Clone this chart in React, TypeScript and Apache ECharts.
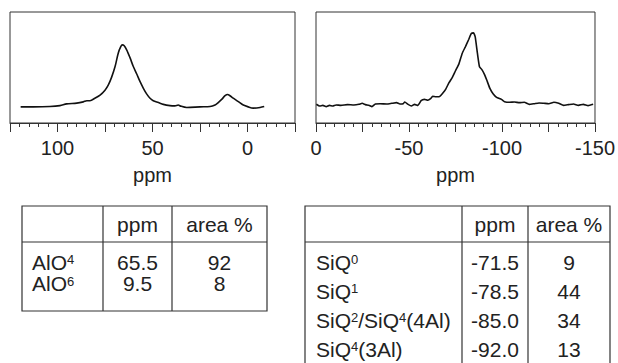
import React, { useEffect, useRef } from "react";
import * as echarts from "echarts";

// 27Al spectrum (ppm, normalised intensity)
const alPpm = [119.4, 112.7, 104, 98.7, 95.2, 89.9, 86.4, 84.6, 82.9, 80.3, 77.6, 75, 73.3, 71.5, 69.7, 68, 66.7, 65.9, 65, 63.6, 61.8, 60.1, 58.3, 56.6, 54.8, 53.1, 51.3, 49.6, 46.9, 44.3, 40.8, 38.2, 36.4, 35.5, 32, 25, 19.7, 17.1, 15.4, 13.6, 11.8, 10.5, 9.2, 7.5, 4.8, 2.2, -0.4, -3.0, -6.6, -8.8];
const alIntensity = [0, 0, 0.005, 0.02, 0.048, 0.06, 0.081, 0.1, 0.1, 0.14, 0.19, 0.27, 0.35, 0.48, 0.65, 0.87, 0.97, 1.0, 0.99, 0.92, 0.79, 0.65, 0.53, 0.41, 0.3, 0.21, 0.14, 0.1, 0.07, 0.04, 0.02, 0.016, 0.03, 0.016, -0.01, 0, 0.005, 0.03, 0.07, 0.12, 0.18, 0.2, 0.18, 0.14, 0.086, 0.03, 0, -0.02, -0.01, 0.005];

// 29Si spectrum (ppm, normalised intensity)
const siPpm = [-0.2, -1.95, -3.7, -5.5, -7.2, -9.0, -10.8, -13.4, -16.9, -20.4, -23.1, -24.8, -26.6, -28.4, -30.1, -31.9, -34.5, -38.0, -40.7, -43.3, -45.1, -46.9, -47.7, -49.5, -51.3, -53.0, -54.8, -56.5, -58.3, -60.1, -61.8, -62.7, -64.5, -66.2, -68.0, -69.7, -71.5, -73.3, -75.0, -76.8, -78.6, -80.3, -82.1, -83.5, -84.7, -85.6, -86.8, -87.9, -89.1, -90.5, -91.8, -93.5, -95.3, -97.1, -99.7, -101.4, -104.1, -106.7, -109.4, -112.0, -114.6, -117.3, -119.9, -122.6, -125.2, -127.9, -130.5, -133.1, -135.8, -138.4, -141.1, -143.7, -146.3, -149.0];
const siIntensity = [0.01, -0.014, -0.005, -0.023, -0.005, -0.014, 0, -0.005, 0.005, 0, 0.009, 0.023, 0.005, -0.005, -0.023, 0.014, 0.018, 0.014, 0.023, 0.032, 0.014, 0.018, 0.041, 0.009, -0.014, 0.009, -0.005, 0.06, 0.078, 0.065, 0.092, 0.12, 0.115, 0.115, 0.16, 0.217, 0.309, 0.383, 0.475, 0.567, 0.715, 0.807, 0.908, 0.991, 1.0, 0.945, 0.715, 0.53, 0.494, 0.429, 0.346, 0.23, 0.152, 0.106, 0.078, 0.046, 0.037, 0.041, 0.032, 0.037, 0.009, 0.018, 0.028, 0.023, 0.018, 0.037, 0.023, -0.005, 0.005, 0.014, -0.005, 0.009, -0.009, 0.009];

// Tables
const tableHeader = ["ppm", "area %"];
const alLabels = ["AlO{s|4}", "AlO{s|6}"];
const alShift = ["65.5", "9.5"];
const alArea = ["92", "8"];
const siLabels = ["SiQ{s|0}", "SiQ{s|1}", "SiQ{s|2}/SiQ{s|4}(4Al)", "SiQ{s|4}(3Al)"];
const siShift = ["-71.5", "-78.5", "-85.0", "-92.0"];
const siArea = ["9", "44", "34", "13"];

const FONT = '"Liberation Sans", Arial, Helvetica, sans-serif';
const INK = "#222";
const LINE = "#333";

function xAxisFor(gridIndex: number, min: number, max: number) {
  return {
    type: "value",
    gridIndex,
    min,
    max,
    interval: 25,
    inverse: true,
    name: "ppm",
    nameLocation: "middle",
    nameGap: 42,
    nameTextStyle: { fontFamily: FONT, fontSize: 20, color: INK },
    axisLine: { show: true, onZero: false, lineStyle: { color: LINE, width: 1 } },
    axisTick: { show: true, inside: false, length: 9, lineStyle: { color: LINE, width: 1 } },
    minorTick: { show: true, splitNumber: 5, length: 4, lineStyle: { color: LINE, width: 1 } },
    splitLine: { show: false },
    minorSplitLine: { show: false },
    axisLabel: {
      show: true,
      margin: 15,
      fontFamily: FONT,
      fontSize: 20,
      color: INK,
      showMinLabel: true,
      showMaxLabel: true,
      formatter: (v: number) => (Math.round(v) % 50 === 0 ? String(Math.round(v)) : ""),
    },
  };
}

function cellText(x: number, y: number, text: string, align: string) {
  return {
    type: "text",
    x,
    y,
    silent: true,
    style: {
      text,
      fill: INK,
      fontFamily: FONT,
      fontSize: 21,
      lineHeight: 18,
      align,
      verticalAlign: "middle",
      rich: {
        s: { fontSize: 13, lineHeight: 18, fontFamily: FONT, fill: INK, verticalAlign: "top" },
      },
    },
  };
}

function line(x1: number, y1: number, x2: number, y2: number) {
  return {
    type: "line",
    silent: true,
    shape: { x1, y1, x2, y2 },
    style: { stroke: LINE, lineWidth: 1.2 },
  };
}

function buildTables() {
  const els: any[] = [];
  // Left table
  els.push({
    type: "rect",
    silent: true,
    shape: { x: 22, y: 206, width: 245, height: 105 },
    style: { fill: "none", stroke: LINE, lineWidth: 1.2 },
  });
  els.push(line(22, 242, 267, 242));
  els.push(line(103, 206, 103, 311));
  els.push(line(172, 206, 172, 311));
  els.push(cellText(137.5, 224, tableHeader[0], "center"));
  els.push(cellText(219.5, 224, tableHeader[1], "center"));
  const alRowY = [262, 283.5];
  alLabels.forEach((lab, i) => {
    els.push(cellText(32, alRowY[i], lab, "left"));
    els.push(cellText(137.5, alRowY[i], alShift[i], "center"));
    els.push(cellText(219.5, alRowY[i], alArea[i], "center"));
  });

  // Right table
  els.push({
    type: "rect",
    silent: true,
    shape: { x: 305, y: 206, width: 305, height: 175 },
    style: { fill: "none", stroke: LINE, lineWidth: 1.2 },
  });
  els.push(line(305, 242, 610, 242));
  els.push(line(462, 206, 462, 381));
  els.push(line(528, 206, 528, 381));
  els.push(cellText(495, 224, tableHeader[0], "center"));
  els.push(cellText(569, 224, tableHeader[1], "center"));
  const siRowY = [262, 291, 320, 349];
  siLabels.forEach((lab, i) => {
    els.push(cellText(316, siRowY[i], lab, "left"));
    els.push(cellText(495, siRowY[i], siShift[i], "center"));
    els.push(cellText(569, siRowY[i], siArea[i], "center"));
  });
  return els;
}

export default function App() {
  const ref = useRef<HTMLDivElement>(null);

  useEffect(() => {
    document.body.style.margin = "0";
    if (!ref.current) return;
    const chart = echarts.init(ref.current, null, { renderer: "svg" });
    chart.setOption({
      animation: false,
      backgroundColor: "#fff",
      grid: [
        { left: 10, top: 12, width: 285, height: 111, show: true, borderColor: LINE, borderWidth: 1, backgroundColor: "transparent" },
        { left: 316, top: 12, width: 284, height: 111, show: true, borderColor: LINE, borderWidth: 1, backgroundColor: "transparent" },
      ],
      xAxis: [xAxisFor(0, -25, 125), xAxisFor(1, -150, 0)],
      yAxis: [
        { type: "value", gridIndex: 0, min: -0.26, max: 1.53, show: false, splitLine: { show: false } },
        { type: "value", gridIndex: 1, min: -0.25, max: 1.29, show: false, splitLine: { show: false } },
      ],
      series: [
        {
          type: "line",
          xAxisIndex: 0,
          yAxisIndex: 0,
          data: alPpm.map((p, i) => [p, alIntensity[i]]),
          showSymbol: false,
          smooth: 0.3,
          lineStyle: { color: "#111", width: 1.6 },
        },
        {
          type: "line",
          xAxisIndex: 1,
          yAxisIndex: 1,
          data: siPpm.map((p, i) => [p, siIntensity[i]]),
          showSymbol: false,
          smooth: 0.15,
          lineStyle: { color: "#111", width: 1.6 },
        },
      ],
      graphic: buildTables(),
    });
    return () => chart.dispose();
  }, []);

  return <div ref={ref} style={{ width: 618, height: 363 }} />;
}
